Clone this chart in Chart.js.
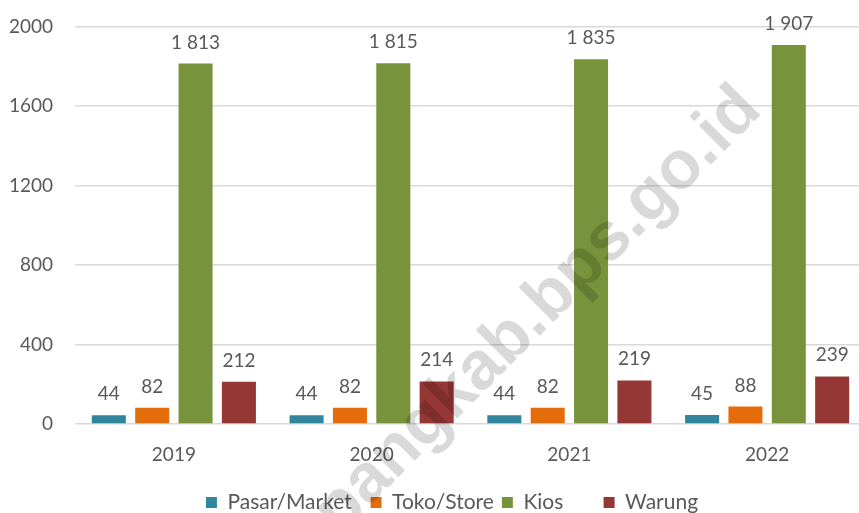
<!DOCTYPE html>
<html>
<head>
<meta charset="utf-8">
<script src="https://cdn.jsdelivr.net/npm/chart.js@4.4.0/dist/chart.umd.min.js"></script>
<style>
  html, body { margin: 0; padding: 0; background: #fff; overflow: hidden; }
  /* canvas a little larger than the window so the plot area lands where the source has it */
  #wrap { width: 866px; height: 530px; margin-top: -7px; }
</style>
</head>
<body>
<div id="wrap"><canvas id="chart-outlets"></canvas></div>
<script>
const years = ['2019', '2020', '2021', '2022'];
const pasar = [44, 44, 44, 45];
const toko = [82, 82, 82, 88];
const kios = [1813, 1815, 1835, 1907];
const warung = [212, 214, 219, 239];
const yTicks = [0, 400, 800, 1200, 1600, 2000];

const seriesNames = ['Pasar/Market', 'Toko/Store', 'Kios', 'Warung'];
const seriesColors = ['#31859C', '#E46C0A', '#77933C', '#953735'];
const seriesValues = [pasar, toko, kios, warung];
// extra spaces after each legend text, to space the items like the source
const legendGaps = [2, 0, 6, 0];

const textGray = '#595959';
const fontFamily = 'Lato, "Open Sans", sans-serif';

// thousands separated by a space, like the source
function fmt(v) {
  return String(v).replace(/\B(?=(\d{3})+(?!\d))/g, ' ');
}

// value labels above each bar
const barLabels = {
  id: 'barLabels',
  afterDatasetsDraw(chart) {
    const ctx = chart.ctx;
    ctx.save();
    ctx.font = '19px ' + fontFamily;
    ctx.fillStyle = textGray;
    ctx.textAlign = 'center';
    ctx.textBaseline = 'alphabetic';
    chart.data.datasets.forEach((ds, i) => {
      chart.getDatasetMeta(i).data.forEach((bar, j) => {
        ctx.fillText(fmt(ds.data[j]), bar.x, bar.y - 15);
      });
    });
    ctx.restore();
  }
};

// nudge the legend to the right, the source has it off-centre
const legendShift = {
  id: 'legendShift',
  afterLayout(chart) {
    chart.legend.left += 19;
    chart.legend.right += 19;
  }
};

// diagonal site watermark
const watermark = {
  id: 'watermark',
  afterDraw(chart) {
    const ctx = chart.ctx;
    ctx.save();
    ctx.translate(538, 318);
    ctx.rotate(-45 * Math.PI / 180);
    ctx.font = 'bold 68px "Liberation Sans", Arial, sans-serif';
    ctx.fillStyle = 'rgba(0, 0, 0, 0.15)';
    ctx.textAlign = 'center';
    ctx.textBaseline = 'middle';
    ctx.fillText('pangkab.bps.go.id', 0, 0);
    ctx.restore();
  }
};

const ctx = document.getElementById('chart-outlets').getContext('2d');
const myChart = new Chart(ctx, {
  type: 'bar',
  data: {
    labels: years,
    datasets: seriesNames.map((name, i) => ({
      label: name + ' '.repeat(legendGaps[i]),
      data: seriesValues[i],
      backgroundColor: seriesColors[i],
      borderWidth: 0,
      categoryPercentage: 0.877,
      barPercentage: 0.785
    }))
  },
  options: {
    responsive: true,
    maintainAspectRatio: false,
    animation: false,
    layout: { padding: { top: 19, right: 0, left: 0, bottom: 0 } },
    plugins: {
      tooltip: { enabled: false },
      legend: {
        position: 'bottom',
        labels: {
          color: textGray,
          font: { family: fontFamily, size: 21 },
          boxWidth: 11,
          boxHeight: 11,
          padding: 8
        }
      }
    },
    scales: {
      x: {
        grid: { display: false },
        border: { display: false },
        ticks: { color: textGray, font: { family: fontFamily, size: 19 }, padding: 11 },
        afterFit(scale) { scale.height = 60; }
      },
      y: {
        min: 0,
        max: 2000,
        afterBuildTicks(scale) { scale.ticks = yTicks.map(v => ({ value: v })); },
        grid: { color: '#D9D9D9', lineWidth: 1.5, drawTicks: false },
        border: { display: false },
        ticks: {
          color: textGray,
          font: { family: fontFamily, size: 19 },
          padding: 22,
          callback: v => String(v)
        },
        afterFit(scale) { scale.width = 75; }
      }
    }
  },
  plugins: [barLabels, legendShift, watermark]
});
</script>
</body>
</html>
